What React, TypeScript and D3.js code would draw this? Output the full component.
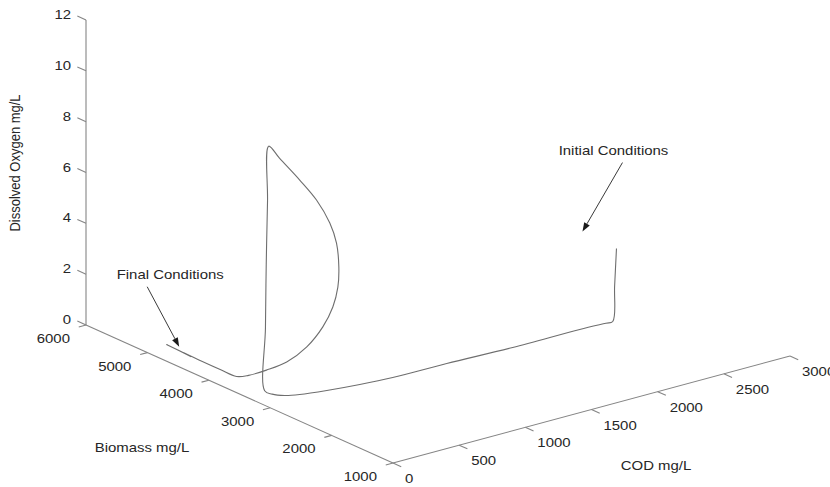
import React, { useRef, useEffect } from "react";
import * as d3 from "d3";

const codTicks = [0, 500, 1000, 1500, 2000, 2500, 3000];
const biomassTicks = [1000, 2000, 3000, 4000, 5000, 6000];
const oxygenTicks = [0, 2, 4, 6, 8, 10, 12];

// trajectory (COD mg/L, biomass mg/L, DO mg/L)
const cod = [
  2548, 2534, 2520, 2470, 2280, 1774, 1294, 892, 663, 444, 274, 193, 145, 140,
  145, 150, 158, 165,
  178, 180, 180, 180, 180, 180, 180, 180, 180, 180, 180, 178, 172,
  165, 160, 160, 165, 170, 150,
];
const biomass = [
  2852, 2852, 2852, 2856, 2873, 2874, 2914, 2927, 2970, 3035, 3110, 3179, 3281, 3392,
  3390, 3388, 3384, 3380,
  3233, 2907, 2634, 2417, 2308, 2270, 2286, 2368, 2531, 2792, 3119, 3445, 3723,
  3903, 4150, 4450, 4800, 5056, 4610,
];
const oxygen = [
  2.85, 1.4, 0.02, 0.02, 0.02, 0.02, 0.02, 0.02, 0.02, 0.02, 0.02, 0.02, 0.03, 0.05,
  2.5, 5.0, 7.5, 9.65,
  9.32, 8.81, 8.32, 7.65, 6.98, 6.08, 5.27, 4.4, 3.44, 2.37, 1.42, 0.75, 0.25,
  0.02, 0.02, 0.02, 0.02, 0.02, 0.05,
];

const notes = [
  { text: "Initial Conditions", at: 0, tip: [-34, -17], tail: [6, -86], label: [-3, -94] },
  { text: "Final Conditions", at: cod.length - 1, tip: [-12, -10], tail: [-44, -70], label: [-21, -78] },
];

const W = 830;
const H = 487;
const stretch = 1.15; // the picture's text is a little wide

const App = () => {
  const ref = useRef(null);

  useEffect(() => {
    const svg = d3.select(ref.current).attr("width", W).attr("height", H);
    const ink = "#262626";
    const axisColor = "#858585";

    const origin = [393, 463];
    const codEnd = [790, 356];
    const bioEnd = [86, 325];
    const sCod = d3.scaleLinear().domain([0, 3000]).range([0, 1]);
    const sBio = d3.scaleLinear().domain([1000, 6000]).range([0, 1]);
    const sDo = d3.scaleLinear().domain([0, 12]).range([0, 305]);

    const project = (c, b, o) => [
      origin[0] + sCod(c) * (codEnd[0] - origin[0]) + sBio(b) * (bioEnd[0] - origin[0]),
      origin[1] + sCod(c) * (codEnd[1] - origin[1]) + sBio(b) * (bioEnd[1] - origin[1]) - sDo(o),
    ];

    const unit = (v) => {
      const l = Math.hypot(v[0], v[1]);
      return [v[0] / l, v[1] / l];
    };
    const codDir = unit([codEnd[0] - origin[0], codEnd[1] - origin[1]]);
    const bioDir = unit([bioEnd[0] - origin[0], bioEnd[1] - origin[1]]);

    const label = (x, y, str, anchor, size = 13) =>
      svg
        .append("g")
        .attr("transform", `translate(${x},${y}) scale(${stretch},1)`)
        .append("text")
        .attr("text-anchor", anchor)
        .attr("font-family", "'Liberation Sans', Arial, sans-serif")
        .attr("font-size", size)
        .attr("fill", ink)
        .text(str);

    const axes = svg.append("g").attr("stroke", axisColor).attr("stroke-width", 1.1).attr("fill", "none");

    // COD axis
    const c0 = project(0, 1000, 0);
    const c1 = project(3000, 1000, 0);
    axes.append("line").attr("x1", c0[0]).attr("y1", c0[1]).attr("x2", c1[0]).attr("y2", c1[1]);
    codTicks.forEach((t) => {
      const p = project(t, 1000, 0);
      axes.append("line")
        .attr("x1", p[0]).attr("y1", p[1])
        .attr("x2", p[0] - bioDir[0] * 9).attr("y2", p[1] - bioDir[1] * 9);
      label(p[0] + 12, p[1] + 20, t, "start");
    });

    // biomass axis
    const b0 = project(0, 1000, 0);
    const b1 = project(0, 6000, 0);
    axes.append("line").attr("x1", b0[0]).attr("y1", b0[1]).attr("x2", b1[0]).attr("y2", b1[1]);
    biomassTicks.forEach((t) => {
      const p = project(0, t, 0);
      axes.append("line")
        .attr("x1", p[0]).attr("y1", p[1])
        .attr("x2", p[0] - codDir[0] * 7.5).attr("y2", p[1] - codDir[1] * 7.5);
      label(p[0] - 16, p[1] + 18, t, "end");
    });

    // dissolved oxygen axis
    const o0 = project(0, 6000, 0);
    const o1 = project(0, 6000, 12);
    axes.append("line").attr("x1", o0[0]).attr("y1", o0[1]).attr("x2", o1[0]).attr("y2", o1[1]);
    oxygenTicks.forEach((t) => {
      const p = project(0, 6000, t);
      axes.append("line")
        .attr("x1", p[0]).attr("y1", p[1])
        .attr("x2", p[0] + bioDir[0] * 9.5).attr("y2", p[1] + bioDir[1] * 9.5);
      label(p[0] - 15, p[1] - 1, t, "end");
    });

    // axis titles
    label(656, 470, "COD mg/L", "middle");
    label(142, 452, "Biomass mg/L", "middle");
    svg
      .append("text")
      .attr("transform", `translate(20,163) scale(${stretch},1) rotate(-90)`)
      .attr("text-anchor", "middle")
      .attr("font-family", "'Liberation Sans', Arial, sans-serif")
      .attr("font-size", 13)
      .attr("fill", ink)
      .text("Dissolved Oxygen mg/L");

    // trajectory
    const pts = cod.map((c, i) => project(c, biomass[i], oxygen[i]));
    const line = d3.line().curve(d3.curveCatmullRom.alpha(0.5));
    svg
      .append("path")
      .attr("d", line(pts))
      .attr("fill", "none")
      .attr("stroke", "#6e6e6e")
      .attr("stroke-width", 1.1);

    // annotations with arrows
    notes.forEach((n) => {
      const p = pts[n.at];
      const tip = [p[0] + n.tip[0], p[1] + n.tip[1]];
      const tail = [p[0] + n.tail[0], p[1] + n.tail[1]];
      const d = unit([tip[0] - tail[0], tip[1] - tail[1]]);
      const len = 9;
      const half = 3.2;
      const base = [tip[0] - d[0] * len, tip[1] - d[1] * len];
      svg.append("line")
        .attr("x1", tail[0]).attr("y1", tail[1])
        .attr("x2", base[0]).attr("y2", base[1])
        .attr("stroke", "#3a3a3a")
        .attr("stroke-width", 1);
      svg.append("path")
        .attr("d", d3.line()([
          tip,
          [base[0] - d[1] * half, base[1] + d[0] * half],
          [base[0] + d[1] * half, base[1] - d[0] * half],
        ]) + "Z")
        .attr("fill", "#1a1a1a");
      label(p[0] + n.label[0], p[1] + n.label[1], n.text, "middle");
    });

    return () => {
      d3.select(ref.current).selectAll("*").remove();
    };
  }, []);

  return (
    <>
      <style>{"body{margin:0}"}</style>
      <svg ref={ref} style={{ display: "block", background: "#fff" }}></svg>
    </>
  );
};

export default App;
